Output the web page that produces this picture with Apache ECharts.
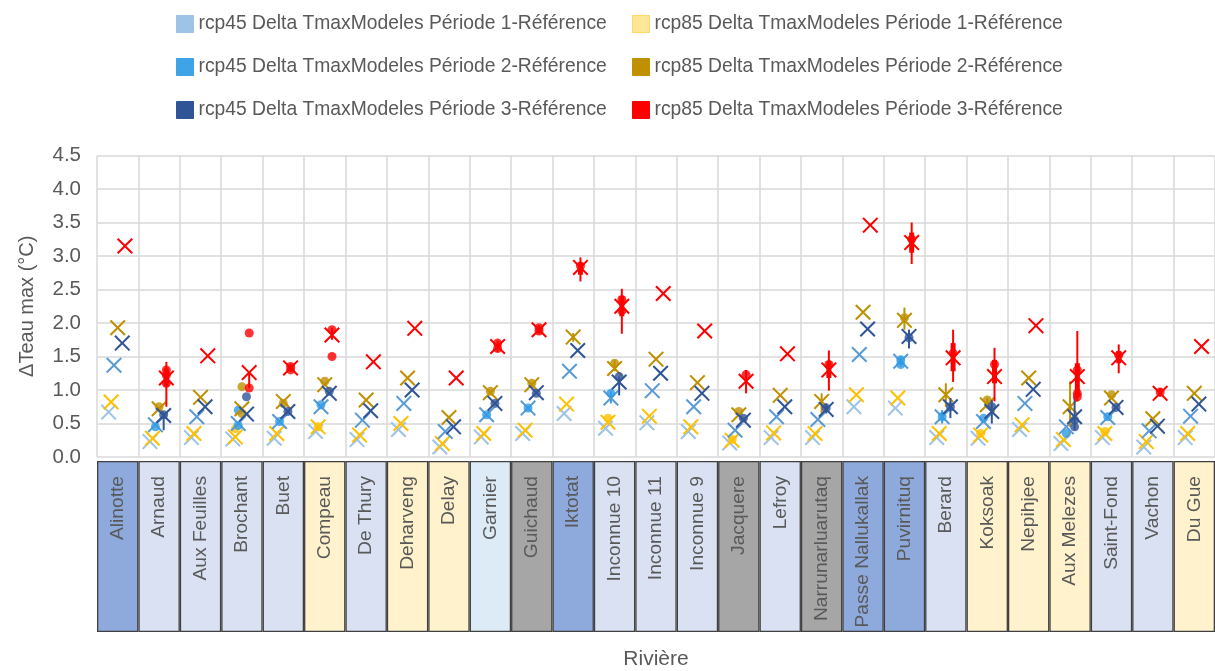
<!DOCTYPE html>
<html><head><meta charset="utf-8">
<script src="https://cdn.jsdelivr.net/npm/echarts@6/dist/echarts.min.js"></script>
<style>html,body{margin:0;padding:0;background:#fff}#c{width:1215px;height:671px}</style>
</head><body><div id="c"></div>
<script>
const categories = ['Alinotte','Arnaud','Aux Feuilles','Brochant','Buet','Compeau','De Thury','Deharveng','Delay','Garnier','Guichaud','Iktotat','Inconnue 10','Inconnue 11','Inconnue 9','Jacquere','Lefroy','Narrunarluarutaq','Passe Nallukallak','Puvirnituq','Berard','Koksoak','Nepihjee','Aux Melezes','Saint-Fond','Vachon','Du Gue'];
const groups = ['A','L','L','L','L','Y','L','Y','Y','P','G','A','L','L','L','G','L','G','A','A','L','Y','Y','Y','L','L','Y'];
const seriesNames = ['rcp45 Delta TmaxModeles Période 1-Référence','rcp45 Delta TmaxModeles Période 2-Référence','rcp45 Delta TmaxModeles Période 3-Référence','rcp85 Delta TmaxModeles Période 1-Référence','rcp85 Delta TmaxModeles Période 2-Référence','rcp85 Delta TmaxModeles Période 3-Référence'];

const rcp45P1 = [0.67,0.23,0.29,0.27,0.28,0.38,0.26,0.41,0.15,0.30,0.35,0.65,0.43,0.51,0.38,0.21,0.29,0.29,0.75,0.73,0.29,0.28,0.41,0.20,0.29,0.15,0.29];
const rcp85P1 = [0.82,0.28,0.35,0.30,0.35,0.45,0.33,0.50,0.20,0.35,0.40,0.79,0.52,0.61,0.45,0.25,0.36,0.35,0.93,0.88,0.35,0.33,0.48,0.26,0.35,0.23,0.35];
const rcp45P2 = [1.37,0.48,0.60,0.50,0.53,0.75,0.55,0.80,0.38,0.63,0.73,1.28,0.88,0.99,0.75,0.40,0.60,0.56,1.53,1.43,0.60,0.53,0.80,0.45,0.59,0.39,0.61];
const rcp85P2 = [1.93,0.72,0.89,0.72,0.83,1.08,0.85,1.18,0.59,0.96,1.08,1.79,1.32,1.46,1.11,0.63,0.92,0.83,2.16,2.04,0.93,0.78,1.18,0.75,0.88,0.57,0.95];
const rcp45P3 = [1.70,0.62,0.75,0.64,0.68,0.95,0.69,1.00,0.45,0.80,0.96,1.59,1.12,1.25,0.95,0.55,0.75,0.71,1.91,1.80,0.75,0.68,1.01,0.60,0.74,0.46,0.79];
const rcp85P3 = [3.15,1.18,1.51,1.26,1.33,1.82,1.42,1.92,1.18,1.65,1.90,2.83,2.25,2.44,1.88,1.13,1.54,1.30,3.46,3.20,1.48,1.20,1.96,1.20,1.48,0.95,1.65];

const rcp45P1Dots = [];
const rcp45P2Dots = [['Arnaud',0.45],['Brochant',0.70],['Brochant',0.47],['Buet',0.53],['Compeau',0.78],['Garnier',0.63],['Guichaud',0.73],['Inconnue 10',0.95],['Puvirnituq',1.45],['Puvirnituq',1.38],['Berard',0.60],['Koksoak',0.58],['Aux Melezes',0.35],['Saint-Fond',0.60]];
const rcp45P3Dots = [['Arnaud',0.63],['Brochant',0.90],['Buet',0.68],['Compeau',0.98],['Garnier',0.80],['Guichaud',0.95],['Inconnue 10',1.20],['Jacquere',0.58],['Narrunarluarutaq',0.73],['Puvirnituq',1.78],['Berard',0.75],['Koksoak',0.75],['Aux Melezes',0.55],['Aux Melezes',0.45],['Saint-Fond',0.74]];
const rcp85P1Dots = [['Brochant',0.42],['Compeau',0.45],['Inconnue 10',0.58],['Jacquere',0.26],['Koksoak',0.35],['Saint-Fond',0.38]];
const rcp85P2Dots = [['Arnaud',0.75],['Brochant',1.05],['Brochant',0.65],['Buet',0.80],['Compeau',1.13],['Garnier',0.98],['Guichaud',1.10],['Inconnue 10',1.40],['Jacquere',0.68],['Koksoak',0.85],['Saint-Fond',0.93],['Puvirnituq',2.08]];
const rcp85P3Dots = [['Arnaud',1.30],['Arnaud',1.22],['Arnaud',1.10],['Brochant',1.85],['Brochant',1.03],['Buet',1.35],['Buet',1.30],['Compeau',1.90],['Compeau',1.50],['Garnier',1.62],['Garnier',1.70],['Guichaud',1.88],['Guichaud',1.93],['Iktotat',2.85],['Inconnue 10',2.35],['Inconnue 10',2.18],['Jacquere',1.23],['Narrunarluarutaq',1.38],['Puvirnituq',3.25],['Berard',1.55],['Koksoak',1.38],['Aux Melezes',1.30],['Aux Melezes',0.95],['Aux Melezes',0.90],['Saint-Fond',1.52],['Vachon',0.97]];

const rcp45P2Range = [['Puvirnituq',1.35,1.50],['Inconnue 10',0.80,0.98],['Berard',0.50,0.70]];
const rcp45P3Range = [['Inconnue 10',0.92,1.20],['Puvirnituq',1.62,1.90],['Berard',0.58,0.88],['Koksoak',0.50,0.85],['Aux Melezes',0.40,0.90],['Arnaud',0.40,0.66],['Narrunarluarutaq',0.65,0.80]];
const rcp85P2Range = [['Narrunarluarutaq',0.65,0.95],['Puvirnituq',1.90,2.23],['Berard',0.75,1.10],['Aux Melezes',0.45,1.13],['Koksoak',0.72,0.88],['Inconnue 10',1.28,1.45],['Iktotat',1.72,1.85]];
const rcp85P3Range = [['Arnaud',0.75,1.42],['Brochant',1.03,1.28],['Buet',1.27,1.39],['Compeau',1.75,1.93],['Garnier',1.57,1.73],['Guichaud',1.83,1.97],['Iktotat',2.62,2.98],['Inconnue 10',1.84,2.51],['Jacquere',0.95,1.30],['Narrunarluarutaq',0.99,1.59],['Puvirnituq',2.88,3.50],['Berard',1.12,1.90],['Koksoak',0.83,1.63],['Aux Melezes',0.83,1.88],['Saint-Fond',1.25,1.68],['Vachon',0.90,1.03]];
const rcp85P3Box = [['Arnaud',1.05,1.32],['Iktotat',2.72,2.90],['Inconnue 10',2.10,2.40],['Narrunarluarutaq',1.18,1.43],['Puvirnituq',3.05,3.35],['Berard',1.28,1.70],['Koksoak',1.10,1.45],['Aux Melezes',0.90,1.40],['Saint-Fond',1.40,1.58]];

const yTicks = [0,0.5,1,1.5,2,2.5,3,3.5,4,4.5];

const groupColors = {A:'#8EA9DB', L:'#D9E1F2', Y:'#FFF2CC', G:'#A6A6A6', P:'#DDEBF7'};
const XPATH = 'path://M0,0.09 L0.09,0 L0.5,0.41 L0.91,0 L1,0.09 L0.59,0.5 L1,0.91 L0.91,1 L0.5,0.59 L0.09,1 L0,0.91 L0.41,0.5 Z';
const FONT = 'Liberation Sans, Arial, sans-serif';
const TXT = '#595959';

const specs = [
  {name:seriesNames[0], vals:rcp45P1, dots:rcp45P1Dots, range:[], box:[], off:0.28, xColor:'#9DC3E6', dotColor:'#9DC3E6', legendColor:'#9DC3E6'},
  {name:seriesNames[3], vals:rcp85P1, dots:rcp85P1Dots, range:[], box:[], off:0.34, xColor:'#FFC000', dotColor:'#FFC000', legendColor:'#FFE699'},
  {name:seriesNames[1], vals:rcp45P2, dots:rcp45P2Dots, range:rcp45P2Range, box:[], off:0.41, xColor:'#5B9BD5', dotColor:'#2E9BE6', legendColor:'#3FA3E8'},
  {name:seriesNames[4], vals:rcp85P2, dots:rcp85P2Dots, range:rcp85P2Range, box:[], off:0.50, xColor:'#BF9000', dotColor:'#BF9000', legendColor:'#BF9000'},
  {name:seriesNames[2], vals:rcp45P3, dots:rcp45P3Dots, range:rcp45P3Range, box:[], off:0.61, xColor:'#2F5597', dotColor:'#2F5597', legendColor:'#2F5597'},
  {name:seriesNames[5], vals:rcp85P3, dots:rcp85P3Dots, range:rcp85P3Range, box:rcp85P3Box, off:0.675, xColor:'#FF0000', dotColor:'#FF0000', legendColor:'#FF0000'}
];

function rangeSeries(list, off, color, width, z) {
  return {
    type:'custom', xAxisIndex:0, yAxisIndex:0, silent:true, z:z,
    data: list.map(r => [categories.indexOf(r[0]) + off, r[1], r[2]]),
    encode:{x:0, y:[1,2]},
    renderItem: function(params, api) {
      const p1 = api.coord([api.value(0), api.value(1)]);
      const p2 = api.coord([api.value(0), api.value(2)]);
      return {type:'line', shape:{x1:p1[0], y1:p1[1], x2:p2[0], y2:p2[1]}, style:{stroke:color, lineWidth:width}};
    }
  };
}

const series = [];
specs.forEach((s, k) => {
  const z = 2 + k;
  series.push(rangeSeries(s.range, s.off, s.dotColor, 2, z));
  series.push(rangeSeries(s.box, s.off, s.dotColor, 5, z));
  series.push({
    name: s.name + ' (moyenne)', type:'scatter', xAxisIndex:0, yAxisIndex:0, z:z,
    symbol: XPATH, symbolSize: 16,
    itemStyle:{color:s.xColor, opacity:1},
    data: s.vals.map((v,i) => [i + s.off, v])
  });
  series.push({
    name: s.name, type:'scatter', xAxisIndex:0, yAxisIndex:0, z:z,
    symbol:'circle', symbolSize:9,
    itemStyle:{color:s.dotColor},
    data: s.dots.map(d => [categories.indexOf(d[0]) + s.off, d[1]])
  });
});

series.push({
  type:'bar', xAxisIndex:1, yAxisIndex:1, barWidth:'100%', barCategoryGap:'0%', silent:true,
  data: categories.map((c,i) => ({name:c, value:1, itemStyle:{color:groupColors[groups[i]]}})),
  itemStyle:{borderColor:'#404040', borderWidth:1.3},
  label:{show:true, position:'insideTop', rotate:90, align:'right', verticalAlign:'middle', distance:15,
    formatter:'{b}', fontFamily:FONT, fontSize:19.2, color:TXT}
});

const chart = echarts.init(document.getElementById('c'), null, {renderer:'canvas'});
const legendData = specs.map(s => ({name:s.name, itemStyle:{color:s.legendColor, opacity:1, borderColor: s.legendColor==='#FFE699' ? '#FFD966' : s.legendColor, borderWidth:1}}));
const legendCommon = {orient:'vertical', top:9, itemWidth:17, itemHeight:17, itemGap:23, icon:'rect',
  textStyle:{fontFamily:FONT, fontSize:19.3, color:TXT, lineHeight:20}, selectedMode:false};
chart.setOption({
  animation:false,
  backgroundColor:'#fff',
  legend:[
    Object.assign({data:[legendData[0], legendData[2], legendData[4]], left:171}, legendCommon),
    Object.assign({data:[legendData[1], legendData[3], legendData[5]], left:627}, legendCommon)
  ],
  grid:[
    {left:97, right:-2, top:155.5, bottom:214, containLabel:false},
    {left:97, right:-2, top:461, height:178, containLabel:false}
  ],
  xAxis:[
    {type:'value', gridIndex:0, min:0, max:categories.length, interval:1,
      axisLine:{show:false}, axisTick:{show:false}, axisLabel:{show:false},
      splitLine:{show:true, lineStyle:{color:'#D9D9D9', width:1.5}}},
    {type:'category', gridIndex:1, data:categories,
      axisLine:{show:false}, axisTick:{show:false}, axisLabel:{show:false}, splitLine:{show:false},
      name:'Rivière', nameLocation:'middle', nameGap:17,
      nameTextStyle:{fontFamily:FONT, fontSize:21, color:TXT}}
  ],
  yAxis:[
    {type:'value', gridIndex:0, min:yTicks[0], max:yTicks[yTicks.length-1], interval:0.5,
      axisLine:{show:false}, axisTick:{show:false},
      axisLabel:{fontFamily:FONT, fontSize:20.5, color:TXT, margin:16, formatter:v => v.toFixed(1)},
      splitLine:{show:true, lineStyle:{color:'#D9D9D9', width:1.5}},
      name:'ΔTeau max (°C)', nameLocation:'middle', nameGap:60, nameRotate:90,
      nameTextStyle:{fontFamily:FONT, fontSize:20, color:TXT}},
    {type:'value', gridIndex:1, min:0, max:1, show:false}
  ],
  series: series
});
</script></body></html>
